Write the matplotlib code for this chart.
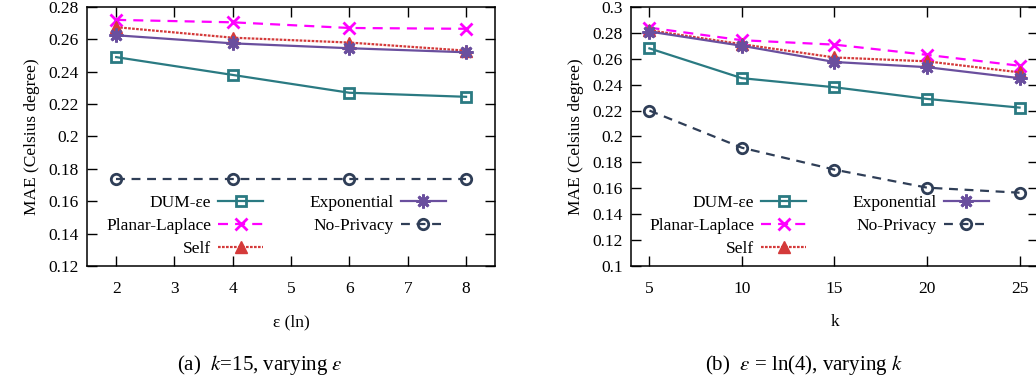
import matplotlib
matplotlib.use('Agg')
from matplotlib import pyplot as plt

plt.rcParams['font.family'] = ['Liberation Serif', 'DejaVu Serif']
plt.rcParams['mathtext.fontset'] = 'stix'
plt.rcParams['font.size'] = 12.5

# (a) k=15, varying epsilon
eps = [2, 4, 6, 8]
eps_dum = [0.249, 0.238, 0.227, 0.2245]
eps_planar = [0.272, 0.2705, 0.267, 0.2665]
eps_self = [0.2675, 0.261, 0.258, 0.253]
eps_expo = [0.2625, 0.2575, 0.2545, 0.252]
eps_nopriv = [0.174, 0.174, 0.174, 0.174]

# (b) epsilon = ln(4), varying k
k = [5, 10, 15, 20, 25]
k_dum = [0.268, 0.245, 0.238, 0.229, 0.2223]
k_planar = [0.284, 0.2743, 0.2709, 0.263, 0.2546]
k_self = [0.282, 0.2712, 0.261, 0.258, 0.2495]
k_expo = [0.281, 0.270, 0.2575, 0.2535, 0.245]
k_nopriv = [0.220, 0.1913, 0.1744, 0.1605, 0.1566]

labels = ['DUM-εe', 'Planar-Laplace', 'Self', 'Exponential', 'No-Privacy']

styles = [
    dict(color='#2a7a82', ls='-', marker='s', ms=7.5, mfc='none', mew=2),
    dict(color='#ff00ff', ls=(0, (4.5, 3.2)), marker='x', ms=9, mew=2),
    dict(color='#d43a3a', ls=(0, (1.2, 0.6)), marker='^', ms=8),
    dict(color='#6a4f9e', ls='-', marker=(8, 2, 0), ms=10, mew=2),
    dict(color='#2f3e57', ls=(0, (4, 3)), marker='o', ms=7.5, mfc='none', mew=2),
]


def panel(ax, x, series, xlim, ylim, yticks, xticks, xlabel):
    for y, lab, st in zip(series, labels, styles):
        ax.plot(x, y, lw=1.6, label=lab, **st)
    ax.set_xlim(*xlim)
    ax.set_ylim(*ylim)
    ax.set_xticks(xticks)
    ax.set_yticks(yticks)
    ax.set_yticklabels(['%g' % v for v in yticks])
    ax.tick_params(direction='in', length=7, width=1, top=True, right=True,
                   labelsize=12.5)
    ax.tick_params(axis='x', pad=11)
    ax.tick_params(axis='y', pad=6)
    for s in ax.spines.values():
        s.set_linewidth(1.1)
    ax.set_xlabel(xlabel, labelpad=12)
    ax.set_ylabel('MAE (Celsius degree)', labelpad=6)
    ax.legend(ncol=2, loc='lower right', bbox_to_anchor=(0.90, 0.0),
              frameon=False, markerfirst=False, handlelength=2.6,
              handletextpad=0.4, columnspacing=2.65, labelspacing=0.4,
              borderpad=0, fontsize=12.5)


fig = plt.figure(figsize=(10.36, 3.85), dpi=100)
ax1 = fig.add_axes([0.084, 0.309, 0.394, 0.673])
ax2 = fig.add_axes([0.609, 0.309, 0.393, 0.673])

yt1 = [0.12, 0.14, 0.16, 0.18, 0.2, 0.22, 0.24, 0.26, 0.28]
yt2 = [0.1, 0.12, 0.14, 0.16, 0.18, 0.2, 0.22, 0.24, 0.26, 0.28, 0.3]

panel(ax1, eps, [eps_dum, eps_planar, eps_self, eps_expo, eps_nopriv],
      (1.5, 8.5), (0.12, 0.28), yt1, [2, 3, 4, 5, 6, 7, 8], 'ε (ln)')
panel(ax2, k, [k_dum, k_planar, k_self, k_expo, k_nopriv],
      (4, 26), (0.1, 0.3), yt2, [5, 10, 15, 20, 25], 'k')

fig.text(0.251, 0.04, r'(a)  $k$=15, varying $\epsilon$', ha='center',
         fontsize=15)
fig.text(0.776, 0.04, r'(b)  $\epsilon$ = ln(4), varying $k$', ha='center',
         fontsize=15)

fig.savefig('out.png', dpi=100)
